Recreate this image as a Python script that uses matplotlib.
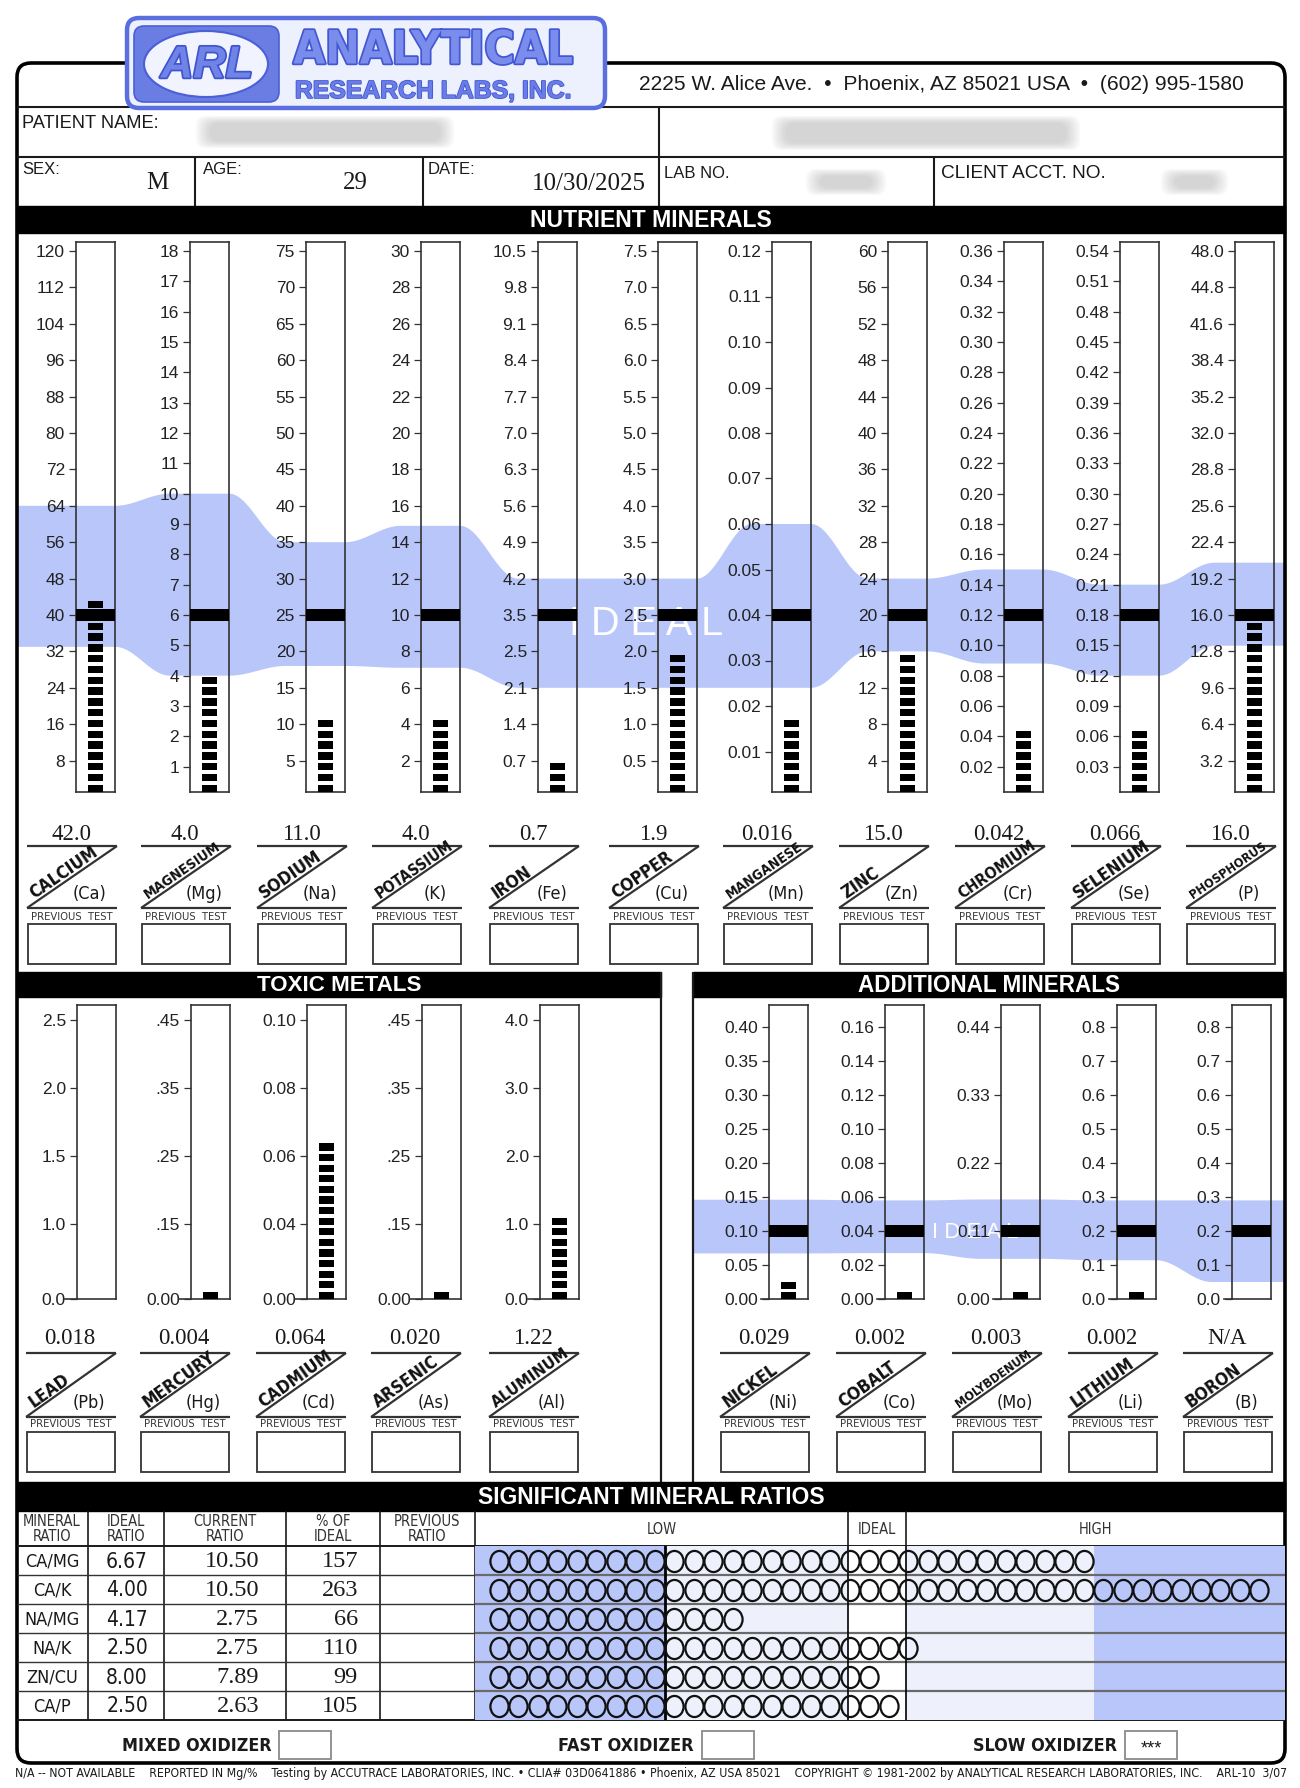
import os
import numpy as np
import matplotlib
matplotlib.use("Agg")
import matplotlib.pyplot as plt
import matplotlib.patheffects as pe
from matplotlib import font_manager as fm
from matplotlib.font_manager import FontProperties
from matplotlib.patches import Rectangle, FancyBboxPatch, Ellipse, Polygon
from matplotlib.path import Path
from matplotlib.ticker import NullLocator

# ------------------------------------------------------------------ DATA
address = "2225 W. Alice Ave.  \u2022  Phoenix, AZ 85021 USA  \u2022  (602) 995-1580"
sex = "M"
age = "29"
report_date = "10/30/2025"

nut_names = ["CALCIUM", "MAGNESIUM", "SODIUM", "POTASSIUM", "IRON", "COPPER",
             "MANGANESE", "ZINC", "CHROMIUM", "SELENIUM", "PHOSPHORUS"]
nut_symbols = ["(Ca)", "(Mg)", "(Na)", "(K)", "(Fe)", "(Cu)", "(Mn)", "(Zn)", "(Cr)", "(Se)", "(P)"]
nut_values = [42.0, 4.0, 11.0, 4.0, 0.7, 1.9, 0.016, 15.0, 0.042, 0.066, 16.0]
nut_value_text = ["42.0", "4.0", "11.0", "4.0", "0.7", "1.9", "0.016", "15.0", "0.042", "0.066", "16.0"]
nut_ideal = [40, 6, 25, 10, 3.5, 2.5, 0.04, 20, 0.12, 0.18, 16.0]
nut_ideal_low = [33, 4.0, 18, 7.1, 2.1, 1.5, 0.024, 16, 0.088, 0.12, 13.3]
nut_ideal_high = [64, 10, 35, 14.9, 4.2, 3.0, 0.06, 24, 0.15, 0.21, 20.6]
nut_tick_labels = [
    ["120", "112", "104", "96", "88", "80", "72", "64", "56", "48", "40", "32", "24", "16", "8"],
    ["18", "17", "16", "15", "14", "13", "12", "11", "10", "9", "8", "7", "6", "5", "4", "3", "2", "1"],
    ["75", "70", "65", "60", "55", "50", "45", "40", "35", "30", "25", "20", "15", "10", "5"],
    ["30", "28", "26", "24", "22", "20", "18", "16", "14", "12", "10", "8", "6", "4", "2"],
    ["10.5", "9.8", "9.1", "8.4", "7.7", "7.0", "6.3", "5.6", "4.9", "4.2", "3.5", "2.5", "2.1", "1.4", "0.7"],
    ["7.5", "7.0", "6.5", "6.0", "5.5", "5.0", "4.5", "4.0", "3.5", "3.0", "2.5", "2.0", "1.5", "1.0", "0.5"],
    ["0.12", "0.11", "0.10", "0.09", "0.08", "0.07", "0.06", "0.05", "0.04", "0.03", "0.02", "0.01"],
    ["60", "56", "52", "48", "44", "40", "36", "32", "28", "24", "20", "16", "12", "8", "4"],
    ["0.36", "0.34", "0.32", "0.30", "0.28", "0.26", "0.24", "0.22", "0.20", "0.18", "0.16", "0.14",
     "0.12", "0.10", "0.08", "0.06", "0.04", "0.02"],
    ["0.54", "0.51", "0.48", "0.45", "0.42", "0.39", "0.36", "0.33", "0.30", "0.27", "0.24", "0.21",
     "0.18", "0.15", "0.12", "0.09", "0.06", "0.03"],
    ["48.0", "44.8", "41.6", "38.4", "35.2", "32.0", "28.8", "25.6", "22.4", "19.2", "16.0", "12.8",
     "9.6", "6.4", "3.2"],
]
nut_tick_values = [[float(s) for s in labs] for labs in nut_tick_labels]
# the iron scale prints "2.5" at the 2.8 position
nut_tick_values[4] = [10.5, 9.8, 9.1, 8.4, 7.7, 7.0, 6.3, 5.6, 4.9, 4.2, 3.5, 2.8, 2.1, 1.4, 0.7]

tox_names = ["LEAD", "MERCURY", "CADMIUM", "ARSENIC", "ALUMINUM"]
tox_symbols = ["(Pb)", "(Hg)", "(Cd)", "(As)", "(Al)"]
tox_values = [0.018, 0.004, 0.064, 0.020, 1.22]
tox_value_text = ["0.018", "0.004", "0.064", "0.020", "1.22"]
tox_tick_labels = [["0.0", "1.0", "1.5", "2.0", "2.5"],
                   ["0.00", ".15", ".25", ".35", ".45"],
                   ["0.00", "0.04", "0.06", "0.08", "0.10"],
                   ["0.00", ".15", ".25", ".35", ".45"],
                   ["0.0", "1.0", "2.0", "3.0", "4.0"]]

add_names = ["NICKEL", "COBALT", "MOLYBDENUM", "LITHIUM", "BORON"]
add_symbols = ["(Ni)", "(Co)", "(Mo)", "(Li)", "(B)"]
add_values = [0.029, 0.002, 0.003, 0.002, None]
add_value_text = ["0.029", "0.002", "0.003", "0.002", "N/A"]
add_ideal = [0.10, 0.04, 0.11, 0.2, 0.2]
add_ideal_low = [0.067, 0.027, 0.065, 0.114, 0.05]
add_ideal_high = [0.146, 0.058, 0.161, 0.29, 0.29]
add_tick_labels = [["0.00", "0.05", "0.10", "0.15", "0.20", "0.25", "0.30", "0.35", "0.40"],
                   ["0.00", "0.02", "0.04", "0.06", "0.08", "0.10", "0.12", "0.14", "0.16"],
                   ["0.00", "0.11", "0.22", "0.33", "0.44"],
                   ["0.0", "0.1", "0.2", "0.3", "0.4", "0.5", "0.6", "0.7", "0.8"],
                   ["0.0", "0.1", "0.2", "0.3", "0.4", "0.5", "0.6", "0.7", "0.8"]]

ratio_names = ["CA/MG", "CA/K", "NA/MG", "NA/K", "ZN/CU", "CA/P"]
ratio_ideal = ["6.67", "4.00", "4.17", "2.50", "8.00", "2.50"]
ratio_current = ["10.50", "10.50", "2.75", "2.75", "7.89", "2.63"]
ratio_pct = [157, 263, 66, 110, 99, 105]
ratio_zone_edges = [45, 92, 107, 155]      # % of ideal: low | low-mid | ideal | high-mid | high
ratio_headers = ["MINERAL\nRATIO", "IDEAL\nRATIO", "CURRENT\nRATIO", "% OF\nIDEAL", "PREVIOUS\nRATIO"]

oxidizer_types = ["MIXED OXIDIZER", "FAST OXIDIZER", "SLOW OXIDIZER"]
oxidizer_marks = ["", "", "***"]

footer = ("N/A -- NOT AVAILABLE    REPORTED IN Mg/%    Testing by ACCUTRACE LABORATORIES, INC. \u2022 "
          "CLIA# 03D0641886 \u2022 Phoenix, AZ USA 85021    COPYRIGHT \u00a9 1981-2002 by ANALYTICAL "
          "RESEARCH LABORATORIES, INC.    ARL-10  3/07")

# ------------------------------------------------------------------ FONTS
_files = {os.path.basename(f.fname): f.fname for f in fm.fontManager.ttflist}


def _find(cands):
    for c in cands:
        if c in _files:
            return _files[c]
    return None


NARROW_R = _find(["LiberationSansNarrow-Regular.ttf", "DejaVuSansCondensed.ttf", "RobotoCondensed-Regular.ttf"])
NARROW_B = _find(["LiberationSansNarrow-Bold.ttf", "DejaVuSansCondensed-Bold.ttf", "RobotoCondensed-Bold.ttf"])


def FP(kind, size):
    if kind == "sans":
        return FontProperties(family="Liberation Sans", size=size)
    if kind == "sansb":
        return FontProperties(family="Liberation Sans", weight="bold", size=size)
    if kind == "serif":
        return FontProperties(family="Liberation Serif", size=size)
    if kind == "narrow":
        if NARROW_R:
            return FontProperties(fname=NARROW_R, size=size)
        return FontProperties(family="Liberation Sans", size=size * 0.85)
    if kind == "narrowb":
        if NARROW_B:
            return FontProperties(fname=NARROW_B, size=size)
        return FontProperties(family="Liberation Sans", weight="bold", size=size * 0.85)
    return FontProperties(size=size)


# ------------------------------------------------------------------ FIGURE
W, H = 1300, 1788
fig = plt.figure(figsize=(W / 100, H / 100), dpi=100)
fig.patch.set_facecolor("white")
bg = fig.add_axes([0, 0, 1, 1])
bg.set_xlim(0, W)
bg.set_ylim(H, 0)
bg.axis("off")
renderer = fig.canvas.get_renderer()

INK = "#1a1a1a"
BAND = "#b9c6fa"
PALE = "#eef1fc"
LOGO = "#5a6ee0"


def T(x, y, s, kind="sans", size=10, ha="left", va="center", color=INK, z=10, **kw):
    return bg.text(x, y, s, fontproperties=FP(kind, size), ha=ha, va=va, color=color, zorder=z, **kw)


def text_w(s, fp):
    w, h, d = renderer.get_text_width_height_descent(s, fp, ismath=False)
    return w


def fit(t, target):
    fp = t.get_fontproperties()
    w = text_w(t.get_text(), fp)
    t.set_fontsize(fp.get_size_in_points() * target / w)
    return t


def line(x0, y0, x1, y1, lw=1.3, color=INK, z=4):
    bg.plot([x0, x1], [y0, y1], color=color, lw=lw, zorder=z, solid_capstyle="butt")


def px_axes(x0, y0, x1, y1):
    ax = fig.add_axes([x0 / W, 1 - y1 / H, (x1 - x0) / W, (y1 - y0) / H])
    ax.patch.set_alpha(0)
    return ax


def style_bar_axes(ax):
    ax.set_xlim(0, 1)
    ax.set_xticks([])
    ax.tick_params(axis="y", direction="out", length=5, width=0.9, pad=3, color="#333333",
                   labelcolor="#222222")
    ax.yaxis.set_minor_locator(NullLocator())
    for sp in ax.spines.values():
        sp.set_linewidth(1.2)
        sp.set_color("#333333")


def blur(x0, y0, x1, y1):
    for k in range(7):
        inset = k * 2.2
        bg.add_patch(FancyBboxPatch((x0 + inset, y0 + inset * 0.5), (x1 - x0) - 2 * inset,
                                    (y1 - y0) - inset, boxstyle="round,pad=0,rounding_size=10",
                                    fc="#9c9c9c", ec="none", alpha=0.07, zorder=5))


# ------------------------------------------------------------------ FRAME + HEADER
bg.add_patch(FancyBboxPatch((17, 63), 1268, 1700, boxstyle="round,pad=0,rounding_size=14",
                            fc="none", ec="black", lw=2.6, zorder=3))
line(17, 107, 1285, 107, lw=1.5)
line(17, 157, 1285, 157, lw=1.5)
line(659, 107, 659, 206, lw=1.5)
for xv in (195, 423, 934):
    line(xv, 157, xv, 206, lw=1.5)

# logo
bg.add_patch(FancyBboxPatch((127, 18), 478, 90, boxstyle="round,pad=0,rounding_size=12",
                            fc="#edf0fd", ec=LOGO, lw=3.2, zorder=6))
bg.add_patch(FancyBboxPatch((134, 26), 145, 76, boxstyle="round,pad=0,rounding_size=10",
                            fc="#6a7de2", ec="#4b5fd6", lw=1.2, zorder=7))
bg.add_patch(Ellipse((206, 64), 124, 66, fc="#f1f3fe", ec="#4b5fd6", lw=1.5, zorder=8))
t = T(207, 66, "ARL", "sansb", 36, ha="center", color="#7083e6", z=9, style="italic",
      path_effects=[pe.withStroke(linewidth=2.5, foreground="#3f54cf")])
fit(t, 92)
t = T(433, 51, "ANALYTICAL", "narrowb", 38, ha="center", color="#7a8cec", z=9,
      path_effects=[pe.withStroke(linewidth=2.5, foreground="#4257d2")])
fit(t, 280)
t = T(433, 91, "RESEARCH LABS, INC.", "sansb", 15, ha="center", color="#6a7de6", z=9,
      path_effects=[pe.withStroke(linewidth=1.2, foreground="#4257d2")])
fit(t, 277)

fit(T(941, 85, address, "sans", 15, ha="center"), 606)
fit(T(22, 123, "PATIENT NAME:", "sans", 12), 137)
blur(196, 116, 454, 148)
blur(772, 116, 1080, 150)
blur(806, 169, 886, 195)
blur(1161, 169, 1228, 195)
T(22, 170, "SEX:", "sans", 12)
T(157, 183, sex, "serif", 18, ha="center")
T(203, 170, "AGE:", "sans", 12)
T(355, 183, age, "serif", 18, ha="center")
T(428, 170, "DATE:", "sans", 12)
T(589, 184, report_date, "serif", 18, ha="center")
T(664, 173, "LAB NO.", "sans", 12)
fit(T(941, 173, "CLIENT ACCT. NO.", "sans", 12), 165)


def section_header(x0, x1, y0, y1, title, width):
    bg.add_patch(Rectangle((x0, y0), x1 - x0, y1 - y0, fc="black", ec="black", zorder=4))
    fit(T((x0 + x1) / 2, (y0 + y1) / 2 + 1, title, "sansb", 14, ha="center", color="white", z=11), width)


section_header(17, 1285, 206, 233, "NUTRIENT MINERALS", 244)


# ------------------------------------------------------------------ LABEL CELLS
def label_cell(cl, ytop, ybot, yval, yprev, yb0, yb1, value_text, name, sym):
    cr = cl + 90
    line(cl, ytop, cr, ytop, lw=1.6, color="#333333")
    line(cl, ybot, cr, ybot, lw=1.6, color="#333333")
    line(cl, ybot, cr, ytop, lw=1.6, color="#333333")
    T(cl + 44, yval, value_text, "serif", 16.5, ha="center")
    L = np.hypot(cr - cl, ybot - ytop)
    ux, uy = (cr - cl) / L, (ytop - ybot) / L
    nx, ny = uy, -ux
    ang = np.degrees(np.arctan2(ybot - ytop, cr - cl))
    fp = FP("narrowb", 12.5)
    w = text_w(name, fp)
    if w > 90:
        fp.set_size(fp.get_size_in_points() * 90 / w)
    x0 = cl + ux * L * 0.10 + nx * 3.0
    y0 = ybot + uy * L * 0.10 + ny * 3.0
    bg.text(x0, y0, name, fontproperties=fp, rotation=ang, rotation_mode="anchor",
            ha="left", va="baseline", color="#111111", zorder=10)
    T(cl + 63, ybot - 14, sym, "narrow", 13, ha="center")
    T(cl + 45, yprev, "PREVIOUS  TEST", "narrow", 8, ha="center", color="#333333")
    bg.add_patch(Rectangle((cl + 1, yb0), 88, yb1 - yb0, fc="none", ec="#333333", lw=1.3, zorder=4))


# ------------------------------------------------------------------ BAND
def draw_band(cols, lows, highs, x_start, x_end, z=1.2):
    tops = [H - ax.transData.transform((0.5, hi))[1] for (ax, _, _), hi in zip(cols, highs)]
    bots = [H - ax.transData.transform((0.5, lo))[1] for (ax, _, _), lo in zip(cols, lows)]
    xs = np.arange(x_start, x_end + 0.5, 1.0)
    yt = np.empty_like(xs)
    yb = np.empty_like(xs)
    n = len(cols)
    for j, x in enumerate(xs):
        if x <= cols[0][2]:
            yt[j], yb[j] = tops[0], bots[0]
            continue
        if x >= cols[-1][1] - 20:
            yt[j], yb[j] = tops[-1], bots[-1]
            continue
        for i in range(n):
            xl, xr = cols[i][1], cols[i][2]
            if xl - 20 <= x <= xr:
                yt[j], yb[j] = tops[i], bots[i]
                break
            if i + 1 < n and xr < x < cols[i + 1][1] - 20:
                tt = (x - xr) / (cols[i + 1][1] - 20 - xr)
                s = 0.5 - 0.5 * np.cos(np.pi * tt)
                yt[j] = tops[i] + (tops[i + 1] - tops[i]) * s
                yb[j] = bots[i] + (bots[i + 1] - bots[i]) * s
                break
    poly = np.column_stack([np.concatenate([xs, xs[::-1]]), np.concatenate([yt, yb[::-1]])])
    bg.add_patch(Polygon(poly, closed=True, fc=BAND, ec="none", zorder=z))


# ------------------------------------------------------------------ NUTRIENT COLUMNS
NUT_X = [76, 190, 306, 421, 538, 658, 772, 888, 1004, 1120, 1235]
BAR_W = 39
NUT_TOP, NUT_BOT, IDEAL_PX, ZERO_PX = 242, 792, 615, 797
PX_PER_IDEAL = ZERO_PX - IDEAL_PX
nut_cols = []
for i, x in enumerate(NUT_X):
    ax = px_axes(x, NUT_TOP, x + BAR_W, NUT_BOT)
    style_bar_axes(ax)
    ideal = nut_ideal[i]
    ylo = (ZERO_PX - NUT_BOT) / PX_PER_IDEAL * ideal
    yhi = (ZERO_PX - NUT_TOP) / PX_PER_IDEAL * ideal
    ax.set_ylim(ylo, yhi)
    ax.set_yticks(nut_tick_values[i], labels=nut_tick_labels[i], fontsize=12.5, fontfamily="Liberation Sans")
    seg = ideal * 10.8 / PX_PER_IDEAL
    n = int(round(nut_values[i] / seg))
    bottoms = ylo + seg * np.arange(n)
    ax.bar(np.full(n, 0.5), np.full(n, seg * 0.68), width=0.41, bottom=bottoms, color="black", zorder=3)
    d = ideal * 6 / PX_PER_IDEAL
    ax.axhspan(ideal - d, ideal + d, color="black", zorder=4, lw=0)
    nut_cols.append((ax, x, x + BAR_W))
    label_cell(x - 49, 846, 908, 835, 917, 924, 964, nut_value_text[i], nut_names[i], nut_symbols[i])

draw_band(nut_cols, nut_ideal_low, nut_ideal_high, 18, 1284)
T(646, 624, "I D E A L", "sans", 28.5, ha="center", color="white", z=1.5)

# ------------------------------------------------------------------ TOXIC / ADDITIONAL
section_header(17, 661, 972, 997, "TOXIC METALS", 165)
section_header(693, 1285, 972, 997, "ADDITIONAL MINERALS", 263)
line(661, 972, 661, 1482, lw=1.6)
line(693, 972, 693, 1482, lw=1.6)

SMALL_TOP, SMALL_BOT = 1005, 1299
TOX_X = [77, 191, 307, 422, 540]
TOX_POS = [0, 1.105, 2.105, 3.105, 4.105]
TOX_STEP = 67.9
for i, x in enumerate(TOX_X):
    ax = px_axes(x, SMALL_TOP, x + BAR_W, SMALL_BOT)
    tv = [float(s) for s in tox_tick_labels[i]]
    tv_ext = tv + [2 * tv[-1] - tv[-2]]
    pos_ext = TOX_POS + [TOX_POS[-1] + 1]
    fwd = (lambda v, a=tv_ext, b=pos_ext: np.interp(v, a, b))
    inv = (lambda p, a=tv_ext, b=pos_ext: np.interp(p, b, a))
    ax.set_yscale("function", functions=(fwd, inv))
    style_bar_axes(ax)
    ax.set_ylim(0, float(inv((SMALL_BOT - SMALL_TOP) / TOX_STEP)))
    ax.set_yticks(tv, labels=tox_tick_labels[i], fontsize=12.5, fontfamily="Liberation Sans")
    pitch, hgt = 10.6 / TOX_STEP, 7.3 / TOX_STEP
    v = tox_values[i]
    n = int(round(float(fwd(v)) / pitch))
    if n == 0 and v >= 0.02 * tv[1]:
        n = 1
    bpos = pitch * np.arange(n)
    bottoms = inv(bpos)
    tops = inv(bpos + hgt)
    ax.bar(np.full(n, 0.5), tops - bottoms, width=0.41, bottom=bottoms, color="black", zorder=3)
    ax.plot([-0.32, 0], [0, 0], transform=ax.get_yaxis_transform(), clip_on=False, color="#333333", lw=1.2)
    label_cell(x - 51, 1353, 1417, 1339, 1424, 1432, 1472, tox_value_text[i], tox_names[i], tox_symbols[i])

ADD_X = [769, 885, 1001, 1117, 1232]
add_cols = []
for i, x in enumerate(ADD_X):
    ax = px_axes(x, SMALL_TOP, x + BAR_W, SMALL_BOT)
    style_bar_axes(ax)
    tv = [float(s) for s in add_tick_labels[i]]
    ppu = (SMALL_BOT - 1027) / tv[-1]
    ax.set_ylim(0, (SMALL_BOT - SMALL_TOP) / ppu)
    ax.set_yticks(tv, labels=add_tick_labels[i], fontsize=12.5, fontfamily="Liberation Sans")
    v = add_values[i]
    if v is not None:
        seg = 10.0 / ppu
        n = int(round(v / seg))
        if n == 0 and v >= 0.02 * tv[1]:
            n = 1
        ax.bar(np.full(n, 0.5), np.full(n, 7.0 / ppu), width=0.41, bottom=seg * np.arange(n),
               color="black", zorder=3)
    d = 6 / ppu
    ax.axhspan(add_ideal[i] - d, add_ideal[i] + d, color="black", zorder=4, lw=0)
    ax.plot([-0.2, 0], [0, 0], transform=ax.get_yaxis_transform(), clip_on=False, color="#333333", lw=1.2)
    add_cols.append((ax, x, x + BAR_W))
    label_cell(x - 49, 1353, 1417, 1339, 1424, 1432, 1472, add_value_text[i], add_names[i], add_symbols[i])

draw_band(add_cols, add_ideal_low, add_ideal_high, 694, 1284)
T(975, 1233, "I D E A L", "sans", 16, ha="center", color="white", z=1.5)

# ------------------------------------------------------------------ RATIOS
section_header(17, 1285, 1482, 1511, "SIGNIFICANT MINERAL RATIOS", 348)
ROW0, ROW_H = 1546, 29.0
nrow = len(ratio_names)
row_y = [ROW0 + ROW_H * k for k in range(nrow + 1)]
rax = px_axes(475, ROW0, 1285, row_y[-1])
PX_PER_PCT = 3.9
x_left = -14 / PX_PER_PCT
rax.set_xlim(x_left, x_left + 810 / PX_PER_PCT)
rax.set_ylim(nrow, 0)
rax.axis("off")
edges = [x_left] + ratio_zone_edges + [x_left + 810 / PX_PER_PCT]
zone_cols = [BAND, PALE, "white", PALE, BAND]
for k in range(5):
    rax.axvspan(edges[k], edges[k + 1], color=zone_cols[k], lw=0, zorder=0)
for k in range(1, nrow):
    rax.axhline(k, color="#6a6a6a", lw=1.6, zorder=1)
rax.axvline(ratio_zone_edges[0], color="black", lw=2.0, zorder=2)
rax.axvline(ratio_zone_edges[1], color="black", lw=1.2, zorder=2)
rax.axvline(ratio_zone_edges[2], color="black", lw=1.2, zorder=2)

uc = Path.unit_circle()
oval = Path(uc.vertices * np.array([0.86, 1.0]), uc.codes)
max_ovals = 40
for r, pct in enumerate(ratio_pct):
    n = min(int(round(pct / 5.0)), max_ovals)
    xs = 5.0 * np.arange(n) + 2.5
    rax.plot(xs, np.full(n, r + 0.5), ls="none", marker=oval, ms=15.2, mfc="none", mec="#111111",
             mew=1.6, zorder=3)


def rx(v):
    return rax.transData.transform((v, 0))[0]


x92, x107 = rx(ratio_zone_edges[1]), rx(ratio_zone_edges[2])
line(x92, 1511, x92, ROW0, lw=1.2)
line(x107, 1511, x107, ROW0, lw=1.2)
col_x = [88, 164, 286, 380, 475]
for xv in col_x:
    line(xv, 1511, xv, row_y[-1], lw=1.2)
line(17, ROW0, 1285, ROW0, lw=1.4)
line(17, row_y[-1], 1285, row_y[-1], lw=1.4)
for k in range(1, nrow):
    line(17, row_y[k], 475, row_y[k], lw=1.0, color="#333333")

hdr_cx = [52, 126, 225, 333, 427]
for cx, s in zip(hdr_cx, ratio_headers):
    T(cx, 1529, s, "narrow", 10.5, ha="center", color="#333333", linespacing=1.0)
T((475 + x92) / 2, 1529, "LOW", "narrow", 10.5, ha="center", color="#333333")
T((x92 + x107) / 2, 1529, "IDEAL", "narrow", 10.5, ha="center", color="#333333")
T((x107 + 1285) / 2, 1529, "HIGH", "narrow", 10.5, ha="center", color="#333333")

for r in range(nrow):
    yc = (row_y[r] + row_y[r + 1]) / 2
    T(52, yc + 1, ratio_names[r], "narrow", 13, ha="center")
    T(127, yc + 1, ratio_ideal[r], "narrow", 15, ha="center")
    T(259, yc + 1, ratio_current[r], "serif", 17.5, ha="right")
    T(358, yc + 1, str(ratio_pct[r]), "serif", 17.5, ha="right")

# oxidizer row
ox_right = [271, 694, 1117]
ox_width = [150, 136, 145]
for xr_, wd, label, mark in zip(ox_right, ox_width, oxidizer_types, oxidizer_marks):
    fit(T(xr_, 1746, label, "narrowb", 15, ha="right"), wd)
    bg.add_patch(Rectangle((xr_ + 8, 1731), 52, 28, fc="white", ec="#8a8a8a", lw=1.3, zorder=5))
    if mark:
        T(xr_ + 34, 1749, mark, "sans", 13, ha="center", z=11)

fit(T(651, 1774, footer, "narrow", 8.5, ha="center"), 1266)

fig.savefig("out.png", dpi=100, facecolor="white")
